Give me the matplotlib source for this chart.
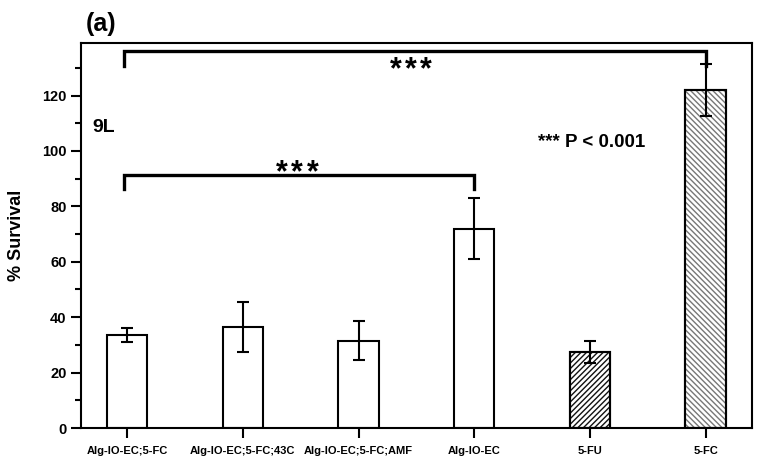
import numpy as np
import matplotlib
matplotlib.use('Agg')
import matplotlib.pyplot as plt

plt.rcParams['font.family'] = ['Liberation Sans', 'DejaVu Sans']
plt.rcParams['font.weight'] = 'bold'
plt.rcParams['hatch.linewidth'] = 1.0

# data
labels = ['Alg-IO-EC;5-FC', 'Alg-IO-EC;5-FC;43C', 'Alg-IO-EC;5-FC;AMF',
          'Alg-IO-EC', '5-FU', '5-FC']
survival = [33.5, 36.5, 31.5, 72, 27.5, 122]
errors = [2.5, 9, 7, 11, 4, 9.5]
hatches = ['', '', '', '', '//////', '\\\\\\\\\\\\']
hatch_colors = ['black', 'black', 'black', 'black', '#111111', '#777777']

fig = plt.figure(figsize=(7.64, 4.66), dpi=100)
ax = fig.add_axes([0.106, 0.0815, 0.878, 0.8265])

x = np.arange(len(labels))
for i in range(len(labels)):
    ax.bar(x[i], survival[i], width=0.35, facecolor='white', edgecolor='black',
           linewidth=1.5, zorder=2)
    if hatches[i]:
        # hatch drawn in its own colour, then outline on top
        ax.bar(x[i], survival[i], width=0.35, facecolor='none',
               edgecolor=hatch_colors[i], linewidth=0, hatch=hatches[i], zorder=2)
        ax.bar(x[i], survival[i], width=0.35, facecolor='none',
               edgecolor='black', linewidth=1.5, zorder=3)
ax.errorbar(x, survival, yerr=errors, fmt='none', ecolor='black',
            elinewidth=1.5, capsize=4.5, capthick=1.5, zorder=4)

ax.set_xlim(-0.4, 5.4)
ax.set_ylim(0, 139)
ax.set_xticks(x)
ax.set_xticklabels(labels, fontsize=8, fontweight='bold')
ax.set_yticks([0, 20, 40, 60, 80, 100, 120])
ax.set_yticks(np.arange(10, 139, 20), minor=True)
ax.tick_params(axis='y', labelsize=10.5, length=7, width=1.5, direction='out')
ax.tick_params(axis='y', which='minor', length=4, width=1.5)
ax.tick_params(axis='x', length=7, width=1.5, direction='out', pad=6)
for s in ax.spines.values():
    s.set_linewidth(1.5)

ax.set_ylabel('% Survival', fontsize=13, fontweight='bold', labelpad=12)

# significance brackets
def bracket(x1, x2, y, h):
    ax.plot([x1, x1, x2, x2], [y - h, y, y, y - h], color='black', lw=2.4,
            solid_joinstyle='miter', zorder=5)

def stars(xc, y):
    # three spaced-out asterisks
    for dx in (-11, 0, 11):
        ax.annotate('*', xy=(xc, y), xytext=(dx, 0), textcoords='offset points',
                    ha='center', va='top', fontsize=22, fontweight='bold')

bracket(-0.03, 5.0, 136.0, 5.2)
stars(2.45, 134.4)
bracket(-0.03, 3.0, 91.3, 5.0)
stars(1.47, 97.5)

ax.text(-0.3, 108.5, '9L', ha='left', va='center', fontsize=14, fontweight='bold')
ax.text(3.55, 103, '*** P < 0.001', ha='left', va='center', fontsize=13.5,
        fontweight='bold')

fig.text(0.112, 0.948, '(a)', ha='left', va='center', fontsize=18, fontweight='bold')

fig.savefig('out.png', dpi=100)
